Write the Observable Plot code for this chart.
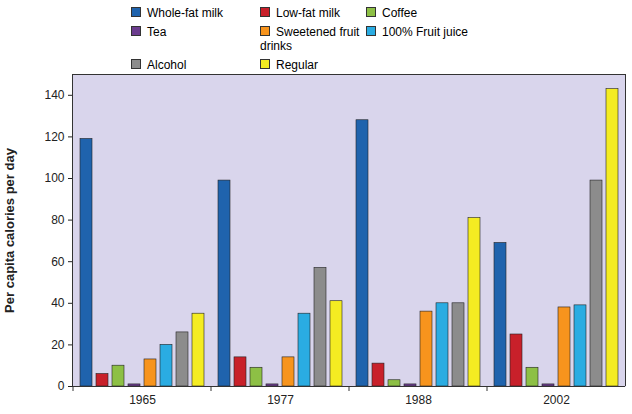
<!DOCTYPE html><html><head><meta charset="utf-8">
<script src="https://cdn.jsdelivr.net/npm/d3@7"></script>
<script src="https://cdn.jsdelivr.net/npm/@observablehq/plot@0.6"></script>
<style>
body{margin:0;font-family:Arial,"Liberation Sans",sans-serif;background:#fff}
#leg{display:grid;grid-template-columns:129px 106px 130px;margin-left:131px;padding-top:6px;font-size:12px;row-gap:5px;height:56px}
#leg span{display:inline-block;width:8px;height:8px;border:1px solid #333;margin-right:6px}
#c{position:relative}
#box{position:absolute;left:72px;top:12px;width:552px;height:311px;border:1px solid #333;border-bottom:none;pointer-events:none}
</style></head><body>
<div id="leg"></div><div id="c"><div id="box"></div></div>
<script>
const years=["1965","1977","1988","2002"];
const beverages=["Whole-fat milk","Low-fat milk","Coffee","Tea","Sweetened fruit drinks","100% Fruit juice","Alcohol","Regular soda/cola"];
const colors=["#1f63ad","#c8202a","#8dc045","#6b3c8e","#f7941d","#2aace2","#8c8c8c","#f4ec22"];
const v1965=[119,6,10,1,13,20,26,35];
const v1977=[99,14,9,1,14,35,57,41];
const v1988=[128,11,3,1,36,40,40,81];
const v2002=[69,25,9,1,38,39,99,143];
const series=[v1965,v1977,v1988,v2002];
const data=[];
years.forEach((y,i)=>beverages.forEach((b,j)=>data.push({year:y,bev:b,v:series[i][j]})));
document.getElementById("leg").innerHTML=beverages.map((b,i)=>`<div><span style="background:${colors[i]}"></span>${b}</div>`).join("");
const p=Plot.plot({
 width:632,height:350,marginLeft:72,marginRight:7,marginTop:12,marginBottom:26,
 style:{fontSize:"12px",fontFamily:"Arial, 'Liberation Sans', sans-serif",color:"#222"},
 fx:{domain:years,padding:0,label:null,tickSize:0},
 x:{domain:beverages,axis:null,paddingInner:0.22,paddingOuter:0.4},
 y:{domain:[0,150],ticks:d3.range(0,141,20),label:"Per capita calories per day",labelAnchor:"center",labelArrow:"none",tickSize:5},
 color:{domain:beverages,range:colors},
 marks:[
  Plot.frame({fill:"#d9d5ec",stroke:"#d9d5ec"}),
  Plot.barY(data,{fx:"year",x:"bev",y:"v",fill:"bev",stroke:"#222",strokeWidth:0.6}),
  Plot.ruleY([0],{stroke:"#333"}),
  (index,scales,values,dims)=>{
    const l=document.createElementNS("http://www.w3.org/2000/svg","line");
    const y=dims.height-dims.marginBottom;
    l.setAttribute("x1",dims.marginLeft);l.setAttribute("x2",dims.marginLeft);
    l.setAttribute("y1",y);l.setAttribute("y2",y+5);l.setAttribute("stroke","#333");
    return l;
  }
 ]
});
d3.select(p).selectAll("[aria-label='y-axis label'] text").style("font-weight","bold").style("font-size","13px");
document.getElementById("c").appendChild(p);
</script></body></html>
